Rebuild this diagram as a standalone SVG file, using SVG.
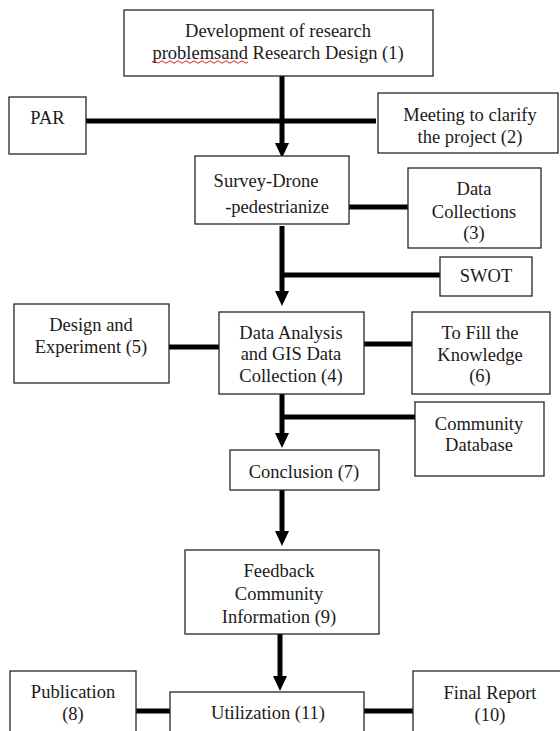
<svg xmlns="http://www.w3.org/2000/svg" width="560" height="731" viewBox="0 0 560 731">
<style>
.box{fill:#fff;stroke:#262626;stroke-width:1.3}
.t{font-family:"Liberation Serif","Times New Roman",serif;font-size:18.5px;fill:#1a1a1a;text-anchor:middle}
.c{stroke:#000;stroke-width:5;fill:none}
</style>
<defs>
<marker id="ah" viewBox="0 0 15 14" markerWidth="15" markerHeight="14" markerUnits="userSpaceOnUse" refX="0" refY="7" orient="auto">
<path d="M0,0 L15,7 L0,14 z" fill="#000"/>
</marker>
</defs>
<g id="connectors">
<line class="c" x1="282" y1="76" x2="282" y2="143" marker-end="url(#ah)"/>
<line class="c" x1="86" y1="121" x2="376" y2="121"/>
<line class="c" x1="349" y1="207" x2="408" y2="207"/>
<line class="c" x1="282" y1="226" x2="282" y2="291" marker-end="url(#ah)"/>
<line class="c" x1="282" y1="275" x2="440" y2="275"/>
<line class="c" x1="169" y1="347" x2="219" y2="347"/>
<line class="c" x1="364" y1="344" x2="412" y2="344"/>
<line class="c" x1="282" y1="394" x2="282" y2="433" marker-end="url(#ah)"/>
<line class="c" x1="282" y1="417" x2="415" y2="417"/>
<line class="c" x1="282" y1="490" x2="282" y2="531" marker-end="url(#ah)"/>
<line class="c" x1="280" y1="634" x2="280" y2="676" marker-end="url(#ah)"/>
<line class="c" x1="136" y1="711" x2="170" y2="711"/>
<line class="c" x1="364" y1="711" x2="413" y2="711"/>
</g>
<g id="n1">
<rect class="box" x="124" y="10" width="309" height="66"/>
<text class="t" x="278" y="37">Development of research</text>
<text class="t" x="278" y="59">problemsand Research Design (1)</text>
<path d="M152,62 q2,-2.5 4,0 t4,0 t4,0 t4,0 t4,0 t4,0 t4,0 t4,0 t4,0 t4,0 t4,0 t4,0 t4,0 t4,0 t4,0 t4,0 t4,0 t4,0 t4,0 t4,0 t4,0 t4,0 t4,0 t4,0" fill="none" stroke="#e02020" stroke-width="1"/>
</g>
<g id="par">
<rect class="box" x="9" y="97" width="77" height="57"/>
<text class="t" x="47.5" y="124">PAR</text>
</g>
<g id="n2">
<rect class="box" x="378" y="93" width="180" height="60"/>
<text class="t" x="470" y="121">Meeting to clarify</text>
<text class="t" x="470" y="143">the project (2)</text>
</g>
<g id="survey">
<rect class="box" x="195" y="156" width="154" height="68"/>
<text class="t" x="266" y="187">Survey-Drone</text>
<text class="t" x="277" y="213">-pedestrianize</text>
</g>
<g id="n3">
<rect class="box" x="408" y="168" width="133" height="80"/>
<text class="t" x="474" y="195">Data</text>
<text class="t" x="474" y="218">Collections</text>
<text class="t" x="474" y="239">(3)</text>
</g>
<g id="swot">
<rect class="box" x="440" y="257" width="92" height="39"/>
<text class="t" x="486" y="282">SWOT</text>
</g>
<g id="n5">
<rect class="box" x="14" y="304" width="155" height="79"/>
<text class="t" x="91" y="331">Design and</text>
<text class="t" x="91" y="353">Experiment (5)</text>
</g>
<g id="n4">
<rect class="box" x="219" y="312" width="145" height="82"/>
<text class="t" x="291" y="339">Data Analysis</text>
<text class="t" x="291" y="360">and GIS Data</text>
<text class="t" x="291" y="382">Collection (4)</text>
</g>
<g id="n6">
<rect class="box" x="412" y="312" width="138" height="82"/>
<text class="t" x="480" y="339">To Fill the</text>
<text class="t" x="480" y="361">Knowledge</text>
<text class="t" x="480" y="382">(6)</text>
</g>
<g id="community">
<rect class="box" x="415" y="402" width="129" height="74"/>
<text class="t" x="479" y="430">Community</text>
<text class="t" x="479" y="451">Database</text>
</g>
<g id="n7">
<rect class="box" x="230" y="450" width="149" height="40"/>
<text class="t" x="304" y="478">Conclusion (7)</text>
</g>
<g id="n9">
<rect class="box" x="185" y="550" width="194" height="84"/>
<text class="t" x="279" y="577">Feedback</text>
<text class="t" x="279" y="600">Community</text>
<text class="t" x="279" y="623">Information (9)</text>
</g>
<g id="n11">
<rect class="box" x="170" y="692" width="194" height="50"/>
<text class="t" x="268" y="719">Utilization (11)</text>
</g>
<g id="n8">
<rect class="box" x="10" y="671" width="126" height="70"/>
<text class="t" x="73" y="698">Publication</text>
<text class="t" x="73" y="720">(8)</text>
</g>
<g id="n10">
<rect class="box" x="413" y="671" width="160" height="70"/>
<text class="t" x="490" y="699">Final Report</text>
<text class="t" x="490" y="721">(10)</text>
</g>
</svg>
